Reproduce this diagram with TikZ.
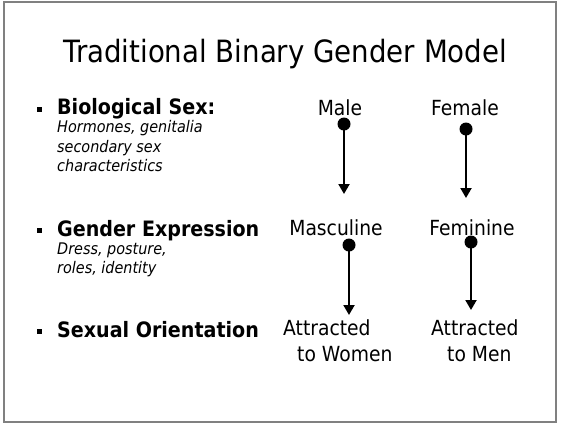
\documentclass[tikz,border=0pt]{standalone}
\usepackage{fontspec}
\setmainfont{DejaVu Sans}[FakeStretch=0.9]
\usetikzlibrary{arrows.meta}
\begin{document}
\begin{tikzpicture}[x=1pt,y=-1pt,
  lab/.style={inner sep=0pt,anchor=base west},
  title/.style={lab,font=\fontsize{30.7}{36}\selectfont},
  head/.style={lab,font=\fontsize{21.2}{24}\selectfont\bfseries},
  sub/.style={lab,font=\fontsize{16}{18}\selectfont\itshape},
  val/.style={inner sep=0pt,anchor=base,font=\fontsize{20.8}{24}\selectfont},
  vall/.style={lab,font=\fontsize{20.8}{24}\selectfont},
  dot/.style={circle,fill=black,inner sep=0pt,minimum size=13pt},
  bul/.style={fill=black,inner sep=0pt,minimum size=5pt},
  arr/.style={line width=2pt,-{Triangle[width=11pt,length=10pt]}}]
\useasboundingbox (0,0) rectangle (562,424);
\draw[line width=1.5pt,gray] (4,2) rectangle (556,422);
\node[title] (t) at (63,62) {Traditional Binary Gender Model};
% row 1
\node[bul] (b1) at (39.5,109.5) {};
\node[head] (h1) at (57,114) {Biological Sex:};
\node[sub] (s1a) at (57,132) {Hormones, genitalia};
\node[sub] (s1b) at (57,152) {secondary sex};
\node[sub] (s1c) at (57,171) {characteristics};
\node[val] (male) at (340,115) {Male};
\node[val] (female) at (465,115) {Female};
% row 2
\node[bul] (b2) at (39.5,230.5) {};
\node[head] (h2) at (57,236) {Gender Expression};
\node[sub] (s2a) at (57,254) {Dress, posture,};
\node[sub] (s2b) at (57,273) {roles, identity};
\node[val] (masc) at (336,235) {Masculine};
\node[val] (fem) at (472,235) {Feminine};
% row 3
\node[bul] (b3) at (39.5,331.5) {};
\node[head] (h3) at (57,337) {Sexual Orientation};
\node[vall] (aw1) at (283,335) {Attracted};
\node[vall] (aw2) at (297,361) {to Women};
\node[vall] (am1) at (431,335) {Attracted};
\node[vall] (am2) at (447,361) {to Men};
% dots and arrows
\node[dot] (d1) at (344,124) {};
\node[dot] (d2) at (466,129) {};
\node[dot] (d3) at (349,245) {};
\node[dot] (d4) at (471,242) {};
\coordinate (e1) at (344,194);
\coordinate (e2) at (466,198);
\coordinate (e3) at (349,315);
\coordinate (e4) at (471,310);
\draw[arr] (d1.center) -- (e1);
\draw[arr] (d2.center) -- (e2);
\draw[arr] (d3.center) -- (e3);
\draw[arr] (d4.center) -- (e4);
\end{tikzpicture}
\end{document}
